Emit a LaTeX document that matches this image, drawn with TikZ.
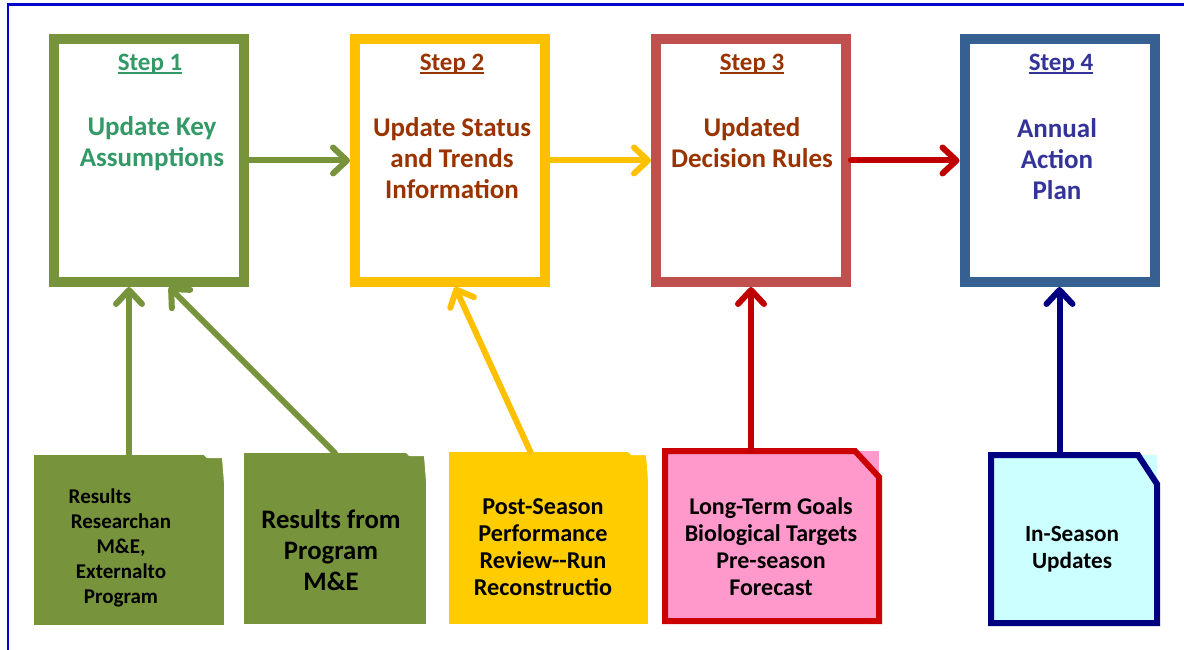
\documentclass[tikz,border=0pt]{standalone}
\usepackage{fontspec}
\setmainfont{Carlito}
\usetikzlibrary{arrows.meta,calc}

\definecolor{olive}{HTML}{77933C}
\definecolor{gold}{HTML}{FFC000}
\definecolor{yellowfill}{HTML}{FFCC00}
\definecolor{brick}{HTML}{C0504D}
\definecolor{darkred}{HTML}{C00000}
\definecolor{redline}{HTML}{CC0000}
\definecolor{pinkfill}{HTML}{FF99CC}
\definecolor{steel}{HTML}{376092}
\definecolor{navyline}{HTML}{000080}
\definecolor{cyanfill}{HTML}{CCFFFF}
\definecolor{greentext}{HTML}{339966}
\definecolor{browntext}{HTML}{993300}
\definecolor{indigotext}{HTML}{333399}
\definecolor{frameblue}{HTML}{0000CC}

% underlined heading with a slightly heavier rule
\newcommand{\steptitletext}[1]{\setbox0\hbox{#1}\leavevmode
  \rlap{\rule[-3.6pt]{\wd0}{1.8pt}}\box0}

\tikzset{
  stepbox/.style={draw, fill=white, line width=10pt, minimum width=190pt,
    minimum height=243pt, inner sep=0pt},
  steptitle/.style={font=\fontsize{25}{30}\selectfont\bfseries, inner sep=0pt},
  stepbody/.style={font=\fontsize{27}{31}\selectfont\bfseries, align=center, inner sep=0pt},
  botbox/.style={inner sep=0pt, outer sep=0pt, draw=none},
  bottext/.style={font=\bfseries, align=center, inner sep=0pt, text=black},
  conn/.style={line width=6pt, line cap=round,
    -{Straight Barb[length=14pt,width=26pt,round]}},
}

\begin{document}
\begin{tikzpicture}[x=1pt,y=-1pt]
\useasboundingbox (0,0) rectangle (1184,650);

% outer frame (left and top edges)
\draw[frameblue, line width=2.7pt] (8,650) -- (8,4.5) -- (1184,4.5);

% the four steps
\node[stepbox, draw=olive] (s1) at (149,160.5) {};
\node[stepbox, draw=gold]  (s2) at (450,160.5) {};
\node[stepbox, draw=brick] (s3) at (751,160.5) {};
\node[stepbox, draw=steel] (s4) at (1059.5,160.5) {};

\node[steptitle, text=greentext]  (t1) at (150,64) {\steptitletext{Step 1}};
\node[steptitle, text=browntext]  (t2) at (452,64) {\steptitletext{Step 2}};
\node[steptitle, text=browntext]  (t3) at (752,64) {\steptitletext{Step 3}};
\node[steptitle, text=indigotext] (t4) at (1061,64) {\steptitletext{Step 4}};

\node[stepbody, text=greentext]  (b1) at (152,144) {Update Key\\Assumptions};
\node[stepbody, text=browntext]  (b2) at (452,158) {Update Status\\and Trends\\Information};
\node[stepbody, text=browntext]  (b3) at (752,142.5) {Updated\\Decision Rules};
\node[stepbody, text=indigotext] (b4) at (1057,159) {Annual\\Action\\Plan};

% inputs below the steps
\node[botbox, fill=olive, minimum width=190pt, minimum height=170pt] (ra) at (129,540) {};
\node[botbox, fill=olive, minimum width=182pt, minimum height=171pt] (rb) at (335,538.5) {};
\node[botbox, fill=yellowfill, minimum width=199pt, minimum height=172pt] (rc) at (548.5,538) {};
\node[botbox, fill=pinkfill, minimum width=214pt, minimum height=170pt] (rd) at (772,536) {};
\node[botbox, fill=cyanfill, minimum width=166pt, minimum height=168pt] (re) at (1074,539) {};

% small notches at the top right of the filled boxes
\foreach \b in {ra,rb,rc}{
  \fill[white] ([xshift=-20pt]\b.north east) -- (\b.north east)
     -- ([yshift=-3pt]\b.north east) -- ([xshift=-17pt,yshift=-3pt]\b.north east) -- cycle;
  \fill[white] ([xshift=-2pt,yshift=-3pt]\b.north east) -- ([yshift=-3pt]\b.north east)
     -- ([yshift=-28pt]\b.north east) -- cycle;
}

% snipped outlines
\draw[redline, line width=6pt, line join=miter]
  (rd.south west) -- (rd.north west) -- ([xshift=-24pt]rd.north east)
  -- ([yshift=-26pt]rd.north east) -- (rd.south east) -- cycle;
\draw[navyline, line width=6pt, line join=miter]
  (re.south west) -- (re.north west) -- ([xshift=-19pt]re.north east)
  -- ([yshift=-29pt]re.north east) -- (re.south east) -- cycle;

% texts of the inputs
\node[bottext, font=\fontsize{21}{25.2}\selectfont\bfseries] (xa) at (121,548)
  {Results\hspace*{42pt}\\Researchan\\M\&E,\\Externalto\\Program};
\node[bottext, font=\fontsize{26.7}{31}\selectfont\bfseries] (xb) at (331,550)
  {Results from\\Program\\M\&E};
\node[bottext, font=\fontsize{24.2}{27}\selectfont\bfseries] (xc) at (543,547.5)
  {Post-Season\\Performance\\Review-{}-Run\\Reconstructio};
\node[bottext, font=\fontsize{24}{27}\selectfont\bfseries] (xd) at (771,546.5)
  {Long-Term Goals\\Biological Targets\\Pre-season\\Forecast};
\node[bottext, font=\fontsize{23.2}{27}\selectfont\bfseries] (xe) at (1072,549.5)
  {In-Season\\Updates};

% flow between steps
\draw[conn, olive]    (s1.east) -- (s2.west);
\draw[conn, gold]     (s2.east) -- (s3.west);
\draw[conn, darkred]  (s3.east) -- (s4.west);

% inputs feeding the steps
\draw[conn, olive]    (ra.north) -- (ra.north |- s1.south);
\draw[conn, olive]    (rb.north) -- ([xshift=20pt]s1.south);
\draw[conn, gold]     ([xshift=-18pt]rc.north) -- ([xshift=5pt]s2.south);
\draw[conn, darkred]  (s3.south |- rd.north) -- (s3.south);
\draw[conn, navyline] (s4.south |- re.north) -- (s4.south);

\end{tikzpicture}
\end{document}
